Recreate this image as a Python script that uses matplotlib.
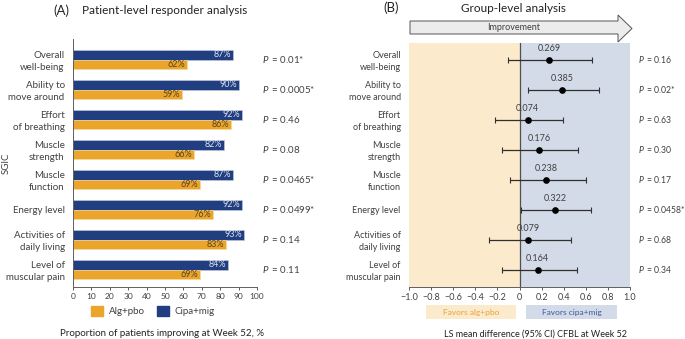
import numpy as np
import matplotlib
matplotlib.use("Agg")
import matplotlib.pyplot as plt
from matplotlib.patches import Polygon, Rectangle, Patch

plt.rcParams['font.family'] = ['Lato', 'DejaVu Sans']
plt.rcParams['mathtext.fontset'] = 'custom'
plt.rcParams['mathtext.it'] = 'Lato:italic'
plt.rcParams['mathtext.rm'] = 'Lato'

# data
categories = ["Overall\nwell-being", "Ability to\nmove around", "Effort\nof breathing",
              "Muscle\nstrength", "Muscle\nfunction", "Energy level",
              "Activities of\ndaily living", "Level of\nmuscular pain"]
cipa_mig = [87, 90, 92, 82, 87, 92, 93, 84]
alg_pbo = [62, 59, 86, 66, 69, 76, 83, 69]
p_resp = ["0.01*", "0.0005*", "0.46", "0.08", "0.0465*", "0.0499*", "0.14", "0.11"]

ls_mean = [0.269, 0.385, 0.074, 0.176, 0.238, 0.322, 0.079, 0.164]
ci_low = [-0.10, 0.08, -0.22, -0.155, -0.09, 0.015, -0.28, -0.16]
ci_high = [0.66, 0.72, 0.39, 0.525, 0.60, 0.65, 0.47, 0.52]
p_group = ["0.16", "0.02*", "0.63", "0.30", "0.17", "0.0458*", "0.68", "0.34"]

NAVY = "#213f80"
ORANGE = "#eaa52a"
TXT = "#404040"
W, H = 685, 339

def fx(px):
    return px / W

def fy(py):
    return 1 - py / H

fig = plt.figure(figsize=(6.85, 3.39), dpi=100)

# ---------- panel A ----------
axA = fig.add_axes([fx(73), fy(287), fx(257) - fx(73), fy(39) - fy(287)])
y = np.arange(len(categories))
bh = 0.33
axA.barh(y - bh / 2, cipa_mig, height=bh, color=NAVY, edgecolor="#c8d0e0", linewidth=0.4)
axA.barh(y + bh / 2, alg_pbo, height=bh, color=ORANGE, edgecolor="#f5dca8", linewidth=0.4)
for i in range(len(categories)):
    axA.text(cipa_mig[i] - 1, y[i] - bh / 2, f"{cipa_mig[i]}%", ha="right", va="center",
             fontsize=6.5, color="#dde3f0")
    axA.text(alg_pbo[i] - 1, y[i] + bh / 2, f"{alg_pbo[i]}%", ha="right", va="center",
             fontsize=6.5, color="#5a4520")
    axA.text(102.5, y[i], f"$P\\,$ = {p_resp[i]}", ha="left", va="center", fontsize=7, color=TXT)
axA.set_xlim(0, 100)
axA.set_ylim(7 + 17.5 / 30, -20.5 / 30)
axA.set_xticks(range(0, 101, 10))
axA.set_yticks(y)
axA.set_yticklabels(categories, fontsize=7, color=TXT, linespacing=1.3)
axA.tick_params(axis="y", length=0, pad=6)
axA.tick_params(axis="x", labelsize=6, colors=TXT, length=2.5, width=0.6, pad=2)
for s in ["top", "right"]:
    axA.spines[s].set_visible(False)
for s in ["left", "bottom"]:
    axA.spines[s].set_color("#606060")
    axA.spines[s].set_linewidth(0.7)

handles = [Patch(color=ORANGE, label="Alg+pbo"), Patch(color=NAVY, label="Cipa+mig")]
fig.legend(handles=handles, loc="center", bbox_to_anchor=(fx(153), fy(311)), ncol=2,
           frameon=False, fontsize=7, handlelength=1.2, handleheight=1.2,
           columnspacing=1.3, handletextpad=0.6, labelcolor=TXT)

fig.text(fx(162), fy(334), "Proportion of patients improving at Week 52, %", ha="center",
         va="center", fontsize=7, color="#222222")
fig.text(fx(6), fy(163), "SGIC", rotation=90, ha="center", va="center", fontsize=7, color=TXT)
fig.text(fx(61), fy(11), "(A)", ha="center", va="center", fontsize=9.5, color="#222222")
fig.text(fx(82), fy(11), "Patient-level responder analysis", ha="left", va="center",
         fontsize=8.5, color="#222222")

# ---------- panel B ----------
axB = fig.add_axes([fx(409), fy(287), fx(630) - fx(409), fy(43) - fy(287)])
axB.axvspan(-1, 0, color="#fbeacb", lw=0, zorder=0)
axB.axvspan(0, 1, color="#d3dbe8", lw=0, zorder=0)
axB.axvline(0, color="#505050", lw=0.9, zorder=1)
xerr = [np.array(ls_mean) - np.array(ci_low), np.array(ci_high) - np.array(ls_mean)]
axB.errorbar(ls_mean, y, xerr=xerr, fmt="o", color="black", ecolor="#303030",
             elinewidth=0.9, capsize=2, capthick=0.8, markersize=3.8, zorder=3)
for i in range(len(categories)):
    axB.text(ls_mean[i], y[i] - 0.37, f"{ls_mean[i]:.3f}", ha="center", va="center",
             fontsize=6.5, color=TXT)
    axB.text(1.075, y[i], f"$P\\,$ = {p_group[i]}", ha="left", va="center", fontsize=6.2,
             color=TXT)
axB.set_xlim(-1, 1)
axB.set_ylim(7 + 17.5 / 30, -(59.5 - 43) / 30)
xt = np.arange(-1, 1.01, 0.2)
axB.set_xticks(xt)
axB.set_xticklabels(["0" if abs(v) < 1e-9 else f"{v:.1f}".replace("-", "\u2212") for v in xt])
axB.set_yticks(y)
axB.set_yticklabels(categories, fontsize=6.5, color=TXT, linespacing=1.3)
axB.tick_params(axis="y", length=0, pad=6)
axB.tick_params(axis="x", labelsize=6.5, colors=TXT, length=2.5, width=0.6, pad=2)
for s in ["top", "right", "left"]:
    axB.spines[s].set_visible(False)
axB.spines["bottom"].set_color("#606060")
axB.spines["bottom"].set_linewidth(0.7)

# improvement arrow
arrow_pts = [(410, 21), (618, 21), (618, 15), (632, 28.5), (618, 42), (618, 34), (410, 34)]
fig.patches.append(Polygon([(fx(a), fy(b)) for a, b in arrow_pts], closed=True,
                           transform=fig.transFigure, facecolor="#ececec",
                           edgecolor="#555555", linewidth=0.7))
fig.text(fx(514), fy(27.5), "Improvement", ha="center", va="center", fontsize=6.5, color=TXT)

# favors boxes
fig.patches.append(Rectangle((fx(426), fy(319)), fx(516) - fx(426), fy(305) - fy(319),
                             transform=fig.transFigure, facecolor="#fbeacb", lw=0))
fig.patches.append(Rectangle((fx(526), fy(319)), fx(617) - fx(526), fy(305) - fy(319),
                             transform=fig.transFigure, facecolor="#d3dbe8", lw=0))
fig.text(fx(471), fy(312), "Favors alg+pbo", ha="center", va="center", fontsize=6, color="#e8a33a")
fig.text(fx(571.5), fy(312), "Favors cipa+mig", ha="center", va="center", fontsize=6, color="#3d5a99")

fig.text(fx(536), fy(334), "LS mean difference (95% CI) CFBL at Week 52", ha="center",
         va="center", fontsize=6.5, color="#222222")
fig.text(fx(391), fy(8), "(B)", ha="center", va="center", fontsize=9.5, color="#222222")
fig.text(fx(513), fy(8), "Group-level analysis", ha="center", va="center", fontsize=8.5,
         color="#222222")

fig.savefig("out.png", dpi=100)
